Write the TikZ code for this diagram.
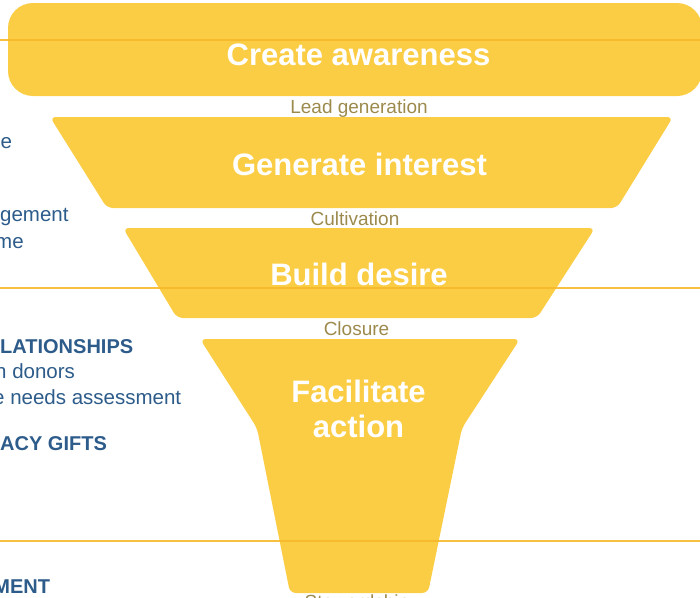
\documentclass[tikz,border=0pt]{standalone}
\usepackage{fontspec}
\setmainfont{Liberation Sans}
\definecolor{funnelyellow}{HTML}{FBCD45}
\definecolor{ruleorange}{HTML}{F7B92B}
\definecolor{sideblue}{HTML}{2D5B8A}
\definecolor{phasegray}{HTML}{9C8A4C}

\begin{document}
\begin{tikzpicture}[x=1pt,y=-1pt,
    stage/.style={fill=funnelyellow,rounded corners=6pt},
    stagetext/.style={text=white,font=\fontsize{31}{35}\selectfont\bfseries,
      anchor=base,inner sep=0pt,align=center},
    phase/.style={text=phasegray,font=\fontsize{19}{22}\selectfont,anchor=base,inner sep=0pt},
    side/.style={text=sideblue,font=\fontsize{20.5}{24}\selectfont,anchor=base west,inner sep=0pt},
    sidehead/.style={side,font=\fontsize{20}{24}\selectfont\bfseries},
    rule/.style={draw=ruleorange,line width=2pt,opacity=.9}]
  \useasboundingbox (0,0) rectangle (700,597);
  \clip (0,0) rectangle (700,597);
  % funnel
  \fill[stage,rounded corners=25pt] (8,3) rectangle (702,96);
  \fill[stage] (50,117) -- (673,117) -- (617,208) -- (107,208) -- cycle;
  \fill[stage] (123,228) -- (595,228) -- (537,318) -- (177,318) -- cycle;
  \fill[stage] (200,339) -- (520,339) -- (462,428) -- (428,593)
    -- (290,593) -- (257,428) -- cycle;
  \node[stagetext] (awareness) at (358.5,65) {Create awareness};
  \node[stagetext] (interest) at (359.5,175) {Generate interest};
  \node[stagetext] (desire) at (359,285) {Build desire};
  \node[stagetext] (action) at (358.5,437) {Facilitate\\action};
  \node[phase] (lead) at (359,113) {Lead generation};
  \node[phase] (cultivation) at (355,225) {Cultivation};
  \node[phase] (closure) at (356.5,335) {Closure};
  \node[phase] (stewardship) at (357,608) {Stewardship};
  % side text, cut at the left edge
  \node[side] (t1) at (0.5,148) {e};
  \node[side] (t2) at (0,221.5) {gement};
  \node[side] (t3) at (-5,248) {me};
  \node[sidehead] (h1) at (0,353) {LATIONSHIPS};
  \node[side] (t4) at (-5,378) {n donors};
  \node[side] (t5) at (-7,404) {e needs assessment};
  \node[sidehead] (h2) at (0,450) {ACY GIFTS};
  \node[sidehead] (h3) at (-6.7,593) {MENT};
  % section rules
  \foreach \y in {40,288,541}
    \draw[rule] (0,\y) -- (700,\y);
\end{tikzpicture}
\end{document}
